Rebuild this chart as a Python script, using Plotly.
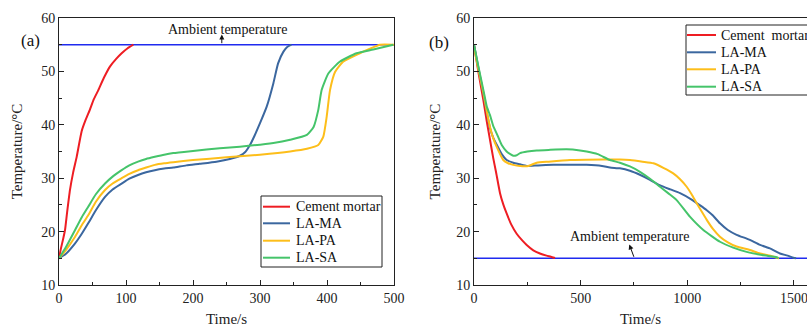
import plotly.graph_objects as go

# ---- heating curves (a) ----
cement_heat_t = [0, 3, 6.5, 9, 12, 16.4, 21, 26.4, 33.8, 40, 46, 52, 58.7, 67, 76, 85, 93.5, 102, 111]
cement_heat_T = [15, 16.9, 18.8, 20.3, 23.5, 27.8, 31, 34, 38.8, 41, 42.8, 44.8, 46.5, 48.8, 50.9, 52.3, 53.4, 54.3, 55]

ma_heat_t = [0, 10, 24, 34, 43.8, 55, 68.7, 80, 93.5, 105, 118, 130, 143, 157, 170.6, 190, 210, 235, 255,
             270, 278, 285, 292, 300, 310, 320, 327, 335, 341, 347]
ma_heat_T = [15, 15.8, 17.8, 19.6, 21.6, 24, 26.5, 27.9, 29, 29.9, 30.6, 31.1, 31.5, 31.8, 32, 32.4, 32.7,
             33.1, 33.6, 34.2, 34.9, 36.2, 38, 40.3, 43.4, 47.8, 51.5, 53.7, 54.6, 55]

pa_heat_t = [0, 10, 24, 34, 43.8, 55, 68.7, 80, 93.5, 105, 118, 130, 143, 157, 170.6, 200, 250, 300, 345,
             370, 387, 394.5, 399.5, 404.5, 412, 424, 449, 465, 479, 500]
pa_heat_T = [15, 16.5, 19.05, 21.2, 23.1, 25.6, 27.8, 29, 30, 30.8, 31.5, 32, 32.5, 32.8, 33, 33.4, 33.9,
             34.4, 35, 35.5, 36.2, 37.8, 41.5, 46.5, 49.9, 51.8, 53.4, 54.3, 55, 55]

sa_heat_t = [0, 10, 24, 34, 43.8, 55, 68.7, 80, 93.5, 105, 118, 130, 143, 157, 170.6, 200, 240, 270, 320,
             345, 370, 380, 387, 392, 402, 419, 444, 469, 499]
sa_heat_T = [15, 17, 20.3, 22.7, 24.7, 27, 29, 30.3, 31.5, 32.4, 33.1, 33.6, 34, 34.4, 34.7, 35.1, 35.6,
             35.9, 36.6, 37.2, 38.1, 39.6, 42.8, 46.5, 49.6, 51.8, 53.4, 54.1, 55]

ambient_heat_t = [0, 500]
ambient_heat_T = [55, 55]

# ---- cooling curves (b) ----
cement_cool_t = [0, 20, 44, 60, 75, 90, 103, 122, 138, 153, 175, 200, 225, 247, 278, 309, 340, 360, 380]
cement_cool_T = [55, 50, 44.6, 40.6, 37.2, 33.8, 31.2, 27.2, 25, 23.4, 21.3, 19.6, 18.4, 17.5, 16.5, 15.9,
                 15.5, 15.3, 15.05]

ma_cool_t = [0, 20, 44, 60, 75, 90, 106, 130, 153, 184, 216, 247, 300, 372, 450, 528, 600, 637, 684, 731,
             780, 825, 870, 920, 966, 1020, 1060, 1091, 1120, 1153, 1190, 1231, 1290, 1341, 1390, 1434, 1470,
             1497, 1510]
ma_cool_T = [55, 50.8, 45.8, 42.3, 39.4, 37.6, 36.3, 34.5, 33.4, 32.9, 32.6, 32.3, 32.4, 32.5, 32.5, 32.5,
             32.3, 32, 31.85, 31.4, 30.6, 29.7, 28.7, 27.9, 27.2, 26, 24.9, 24, 23, 21.55, 20.3, 19.4, 18.5,
             17.5, 16.8, 15.9, 15.5, 15.1, 15]

pa_cool_t = [0, 20, 44, 60, 75, 90, 106, 137, 160, 184, 216, 255, 294, 350, 450, 606, 684, 731, 790, 841,
             890, 934, 966, 997, 1020, 1044, 1068, 1091, 1120, 1153, 1190, 1231, 1290, 1341, 1390, 1419, 1430]
pa_cool_T = [54.5, 50.5, 46, 42.5, 39.6, 37.5, 35.9, 33.4, 32.8, 32.5, 32.3, 32.3, 32.9, 33.1, 33.4, 33.5,
             33.5, 33.4, 33.1, 32.8, 31.9, 30.9, 29.8, 28.4, 27, 25.3, 23.7, 22.2, 20.5, 19.05, 18, 17.2,
             16.6, 15.9, 15.5, 15.1, 15]

sa_cool_t = [0, 20, 44, 60, 75, 90, 106, 130, 153, 170, 184, 200, 216, 250, 294, 350, 434, 497, 528, 580,
             637, 684, 731, 778, 825, 872, 910, 950, 1012, 1075, 1153, 1215, 1278, 1350, 1419, 1427]
sa_cool_T = [55, 51, 46.5, 43.4, 41.8, 39.8, 38.4, 36.2, 35, 34.5, 34.2, 34.3, 34.7, 35, 35.2, 35.3, 35.4,
             35.2, 35, 34.5, 33.4, 32.9, 32.2, 31.2, 29.9, 28.4, 27.2, 25.9, 22.8, 20.3, 18.1, 17, 16.2,
             15.6, 15.2, 15.05]

ambient_cool_t = [0, 1561]
ambient_cool_T = [15, 15]

series_names = ["Cement mortar", "LA-MA", "LA-PA", "LA-SA"]
series_names_b = ["Cement  mortar", "LA-MA", "LA-PA", "LA-SA"]
colors = ["#EE1D23", "#3B679F", "#FDBE1A", "#45C46A"]
ambient_color = "#1F2BEF"

FONT = "Liberation Serif, Times New Roman, serif"
W, H = 807, 328
MT, MB = 18, 43


def px(x):
    return x / W


def py(y):
    return (H - MB - y) / (H - MT - MB)


fig = go.Figure()

heat = [(cement_heat_t, cement_heat_T), (ma_heat_t, ma_heat_T), (pa_heat_t, pa_heat_T), (sa_heat_t, sa_heat_T)]
cool = [(cement_cool_t, cement_cool_T), (ma_cool_t, ma_cool_T), (pa_cool_t, pa_cool_T), (sa_cool_t, sa_cool_T)]

fig.add_trace(go.Scatter(x=ambient_heat_t, y=ambient_heat_T, mode="lines",
                         line=dict(color=ambient_color, width=1.6), xaxis="x", yaxis="y", showlegend=False))
fig.add_trace(go.Scatter(x=ambient_cool_t, y=ambient_cool_T, mode="lines",
                         line=dict(color=ambient_color, width=1.6), xaxis="x2", yaxis="y2", showlegend=False))

for name, c, (t, T) in zip(series_names, colors, heat):
    fig.add_trace(go.Scatter(x=t, y=T, mode="lines", name=name, line=dict(color=c, width=2, shape="spline", smoothing=0.5),
                             xaxis="x", yaxis="y", showlegend=False))
for name, c, (t, T) in zip(series_names, colors, cool):
    fig.add_trace(go.Scatter(x=t, y=T, mode="lines", name=name, line=dict(color=c, width=2, shape="spline", smoothing=0.5),
                             xaxis="x2", yaxis="y2", showlegend=False))

axis_common = dict(showgrid=False, zeroline=False, showline=True, linecolor="#222", linewidth=1,
                   ticks="inside", ticklen=5, tickcolor="#222", automargin=False, ticklabeloverflow="allow",
                   tickfont=dict(family=FONT, size=14, color="#222"))
title_font = dict(family=FONT, size=15, color="#222")

fig.update_layout(
    width=W, height=H,
    margin=dict(l=0, r=0, t=MT, b=MB, autoexpand=False),
    paper_bgcolor="white", plot_bgcolor="white",
    xaxis=dict(domain=[px(59), px(394)], range=[0, 500], dtick=100, mirror=True,
               minor=dict(dtick=50, ticks="inside", ticklen=3, tickcolor="#222"),
               title=dict(text="Time/s", font=title_font, standoff=8),
               anchor="y", **axis_common),
    yaxis=dict(domain=[0, 1], range=[10, 60], dtick=10, mirror=True,
               minor=dict(dtick=5, ticks="inside", ticklen=3, tickcolor="#222"),
               title=dict(text="Temperature/°C", font=title_font, standoff=14),
               anchor="x", **axis_common),
    xaxis2=dict(domain=[px(474), 1], range=[0, 1561], dtick=500, mirror=True,
                minor=dict(dtick=250, ticks="inside", ticklen=3, tickcolor="#222"),
                title=dict(text="Time/s", font=title_font, standoff=8),
                anchor="y2", **axis_common),
    yaxis2=dict(domain=[0, 1], range=[10, 60], dtick=10, mirror=False,
                minor=dict(dtick=5, ticks="inside", ticklen=3, tickcolor="#222"),
                title=dict(text="Temperature/°C", font=title_font, standoff=11),
                anchor="x2", **axis_common),
)

ann_font = dict(family=FONT, size=14, color="#111")

# panel labels
fig.add_annotation(text="(a)", x=px(19), y=py(29), xref="paper", yref="paper", showarrow=False,
                   font=dict(family=FONT, size=17, color="#111"))
fig.add_annotation(text="(b)", x=px(439), y=py(31), xref="paper", yref="paper", showarrow=False,
                   font=dict(family=FONT, size=17, color="#111"))

# ambient temperature labels with arrows
fig.add_annotation(text="Ambient temperature", x=251, y=57.9, xref="x", yref="y", showarrow=False, font=ann_font)
fig.add_annotation(text="", x=243, y=56.9, ax=243, ay=55, xref="x", yref="y", axref="x", ayref="y",
                   showarrow=True, arrowhead=2, arrowsize=1, arrowwidth=1, arrowcolor="#111")
fig.add_annotation(text="Ambient temperature", x=727, y=19.0, xref="x2", yref="y2", showarrow=False, font=ann_font)
fig.add_annotation(text="", x=728, y=17.6, ax=752, ay=15, xref="x2", yref="y2", axref="x2", ayref="y2",
                   showarrow=True, arrowhead=2, arrowsize=1, arrowwidth=1, arrowcolor="#111")


# legend boxes
def legend_box(x0, y0, x1, y1, line_x0, line_x1, text_x, rows, names):
    fig.add_shape(type="rect", xref="paper", yref="paper", x0=px(x0), x1=px(x1), y0=py(y1), y1=py(y0),
                  line=dict(color="#222", width=1), fillcolor="white", layer="above")
    for name, c, ry in zip(names, colors, rows):
        fig.add_shape(type="line", xref="paper", yref="paper", x0=px(line_x0), x1=px(line_x1),
                      y0=py(ry), y1=py(ry), line=dict(color=c, width=2), layer="above")
        fig.add_annotation(text=name, x=px(text_x), y=py(ry), xref="paper", yref="paper",
                           xanchor="left", yanchor="middle", showarrow=False, font=ann_font)


legend_box(261, 196, 382, 267, 263, 290, 294, [206.7, 223.3, 240.7, 257.7], series_names)
legend_box(686, 25, 830, 95, 687, 716, 719, [35, 52.3, 69.3, 86.7], series_names_b)

fig.write_html("out.html")
